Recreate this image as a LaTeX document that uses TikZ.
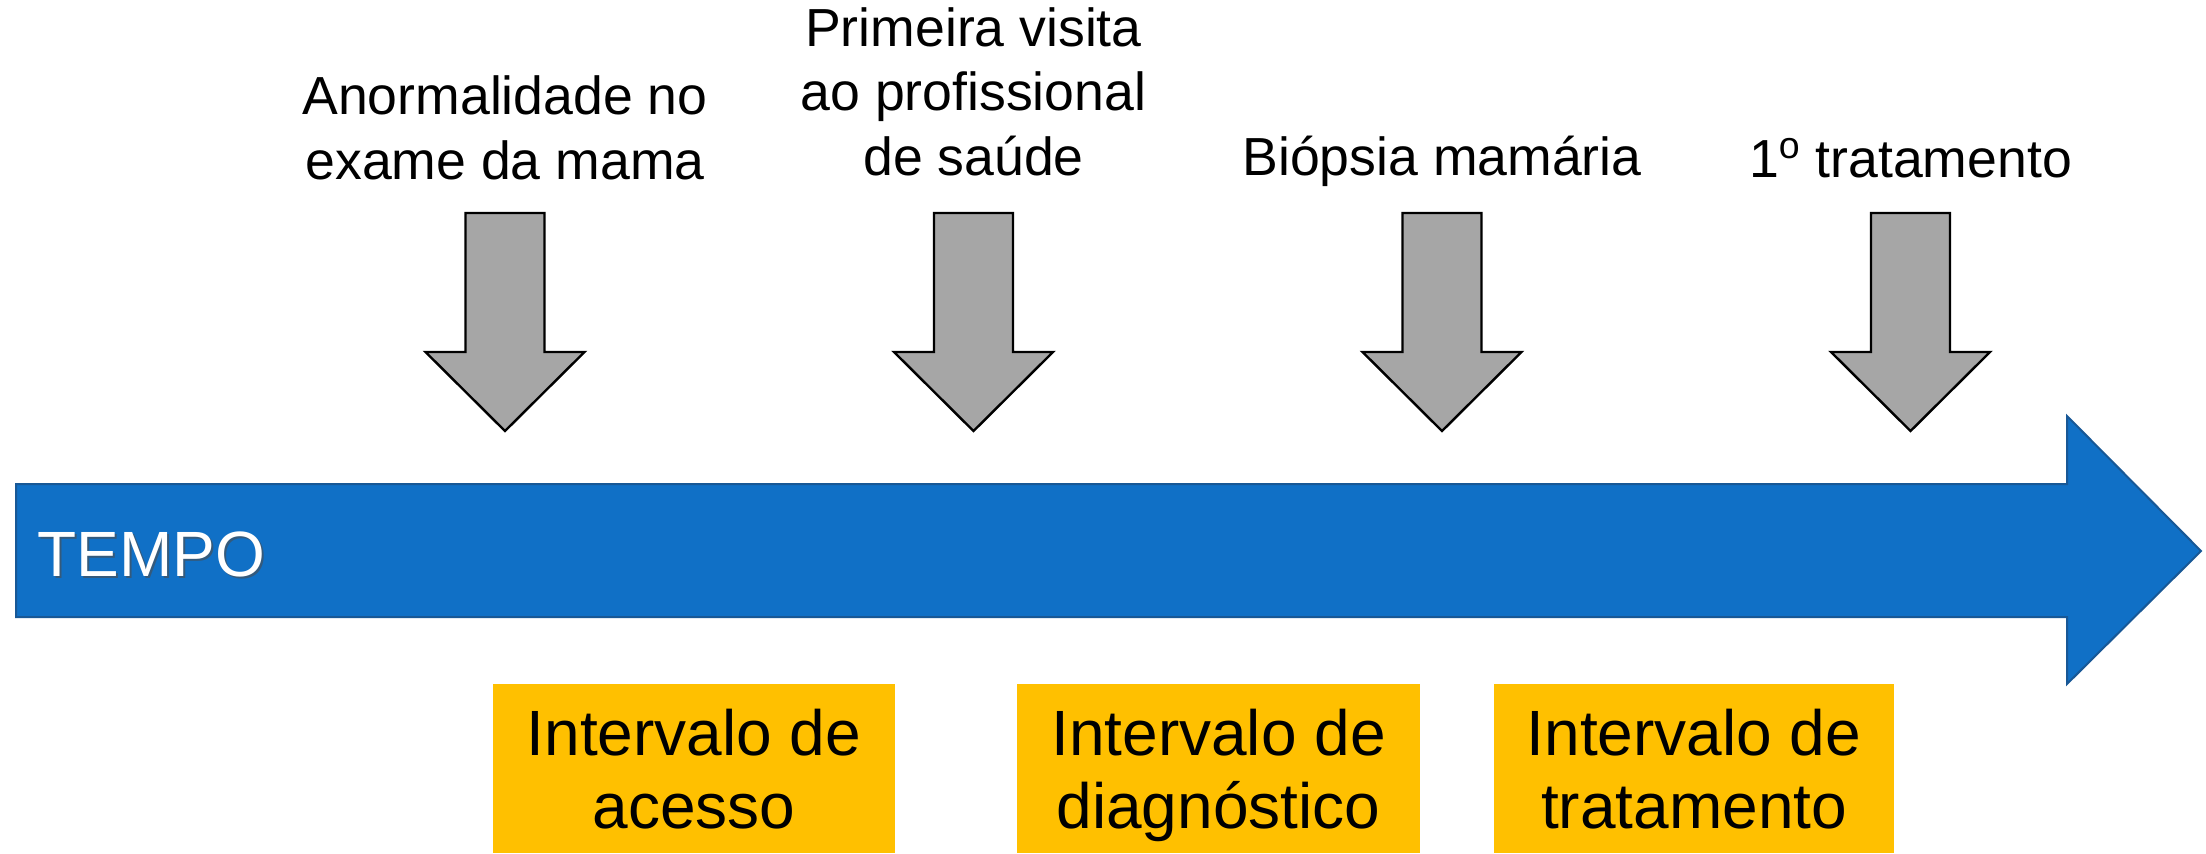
\documentclass[tikz,border=0pt]{standalone}
\usepackage{fontspec}
\setmainfont{Liberation Sans}
\definecolor{tblue}{RGB}{16,112,198}
\definecolor{tbluedark}{RGB}{24,88,150}
\definecolor{tgray}{RGB}{166,166,166}
\definecolor{tyellow}{RGB}{255,192,0}
\begin{document}
\begin{tikzpicture}[x=0.5pt,y=-0.5pt,
  timearrow/.style={fill=tblue,draw=tbluedark,line width=1pt},
  downarrow/.style={fill=tgray,draw=black,line width=1.2pt,line join=miter},
  labeltext/.style={inner sep=0pt,align=center,font=\fontsize{26.8}{32.2}\selectfont},
  intbox/.style={fill=tyellow,draw=none},
  boxtext/.style={inner sep=0pt,align=center,font=\fontsize{32}{36.5}\selectfont}]
\useasboundingbox (0,0) rectangle (2206,853);
% timeline arrow
\draw[timearrow] (16,484) -- (2067,484) -- (2067,416) -- (2201,551) -- (2067,684) -- (2067,617) -- (16,617) -- cycle;
\node[anchor=base west,inner sep=0pt,text=black!70,opacity=0.6,font=\fontsize{32}{38}\selectfont] (tempos) at (39,578) {TEMPO};
\node[anchor=base west,inner sep=0pt,text=white,font=\fontsize{32}{38}\selectfont] (tempo) at (37,576) {TEMPO};
% down arrows
\foreach \cx/\nm in {505/a1,973.5/a2,1442/a3,1910.5/a4}{
  \draw[downarrow] (\cx-39.5,213) -- (\cx+39.5,213) -- (\cx+39.5,352) -- (\cx+79.5,352) -- (\cx,431) -- (\cx-79.5,352) -- (\cx-39.5,352) -- cycle;
  \coordinate (\nm) at (\cx,431);
}
% labels
\node[labeltext,anchor=base] (l1) at (505,179) {Anormalidade no\\exame da mama};
\node[labeltext,anchor=base] (l2) at (973.5,175) {Primeira visita\\ao profissional\\de saúde};
\node[labeltext,anchor=base] (l3) at (1442,175) {Biópsia mamária};
\node[labeltext,anchor=base] (l4) at (1910.5,177) {1\textsuperscript{o} tratamento};
% interval boxes
\fill[intbox] (493,684) rectangle (895,853);
\fill[intbox] (1017,684) rectangle (1420,853);
\fill[intbox] (1494,684) rectangle (1894,853);
\node[boxtext,anchor=base] (b1) at (694,828) {Intervalo de\\acesso};
\node[boxtext,anchor=base] (b2) at (1218.5,828) {Intervalo de\\diagnóstico};
\node[boxtext,anchor=base] (b3) at (1694,828) {Intervalo de\\tratamento};
\end{tikzpicture}
\end{document}
